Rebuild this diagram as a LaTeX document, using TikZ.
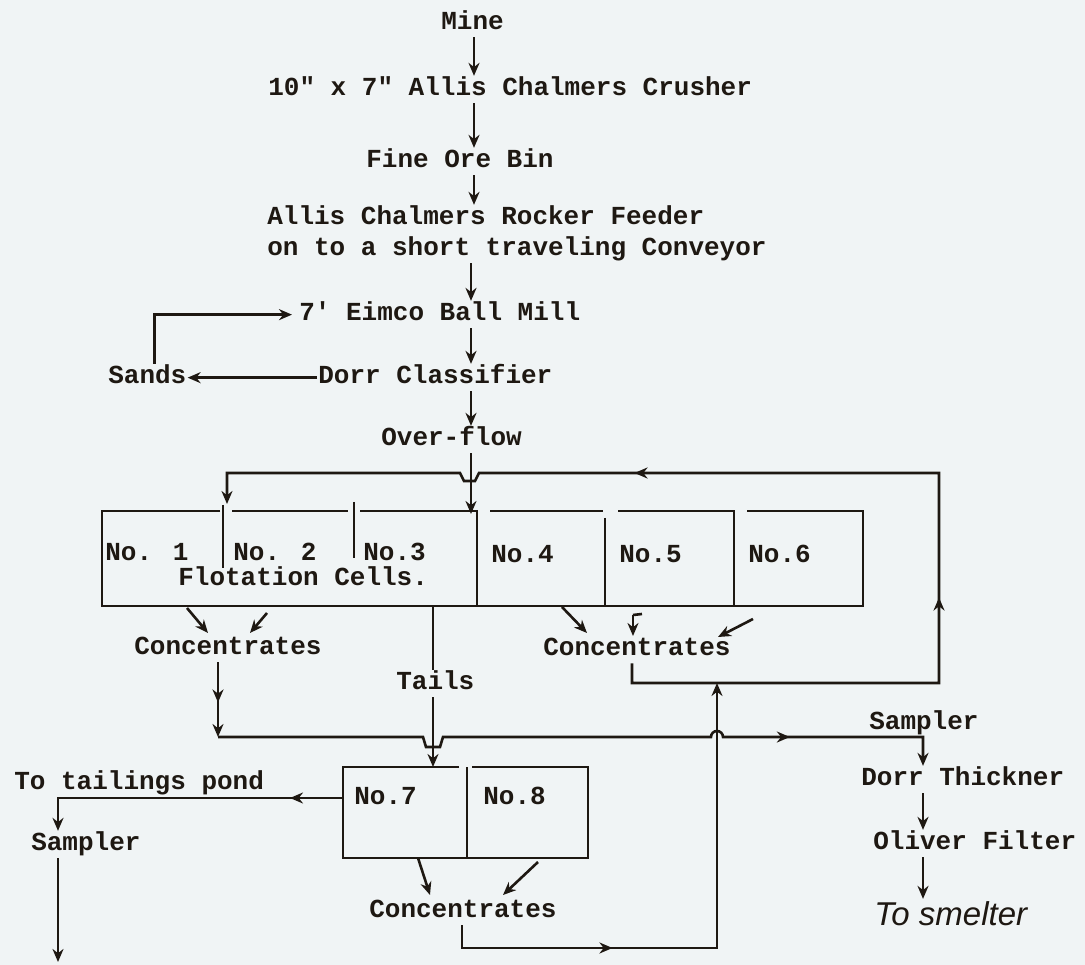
\documentclass[tikz,border=0pt]{standalone}
\usepackage{fontspec}
\newfontfamily\typ{Liberation Mono}
\newfontfamily\hand{Liberation Sans}
\usetikzlibrary{arrows.meta,decorations.markings}
\definecolor{ink}{HTML}{1E1812}
\definecolor{paper}{HTML}{F0F4F5}
\begin{document}
\begin{tikzpicture}[x=1pt,y=-1pt,
  line width=2.6pt, color=ink,
  >={Stealth[length=13pt,width=11pt]},
  txt/.style={font=\typ\bfseries\fontsize{26}{30}\selectfont, text=ink,
    inner xsep=0pt, inner ysep=3pt, text height=15pt, text depth=4pt, anchor=mid west, yshift=-5pt},
  handtxt/.style={font=\hand\itshape\fontsize{33}{36}\selectfont, text=ink,
    inner xsep=0pt, inner ysep=3pt, text height=22pt, text depth=4pt, anchor=mid west, yshift=-3pt},
  midarr/.style={postaction={decorate,decoration={markings,mark=at position #1 with {\arrow{>}}}}},
]
\useasboundingbox (0,0) rectangle (1085,965);
\fill[paper] (0,0) rectangle (1085,965);

% ---------- spines ----------
\coordinate (spA) at (474,0);
\coordinate (spB) at (471,0);
\coordinate (spT) at (433,0);
\coordinate (spR) at (923,0);
\coordinate (spL) at (58,0);

% ---------- upper chain ----------
\node[txt] (mine)    at (440,22)  {Mine};
\node[txt] (crusher) at (267,88)  {10" x 7" Allis Chalmers Crusher};
\node[txt] (fine)    at (365,160) {Fine Ore Bin};
\node[txt] (feed1)   at (266,217) {Allis Chalmers Rocker Feeder};
\node[txt] (feed2)   at (266,248) {on to a short traveling Conveyor};
\node[txt] (mill)    at (298,313) {7' Eimco Ball Mill};
\node[txt] (dorr)    at (317,376) {Dorr Classifier};
\node[txt] (sands)   at (107,376) {Sands};
\node[txt] (over)    at (380,438) {Over-flow};

\draw[->] (mine.south -| spA) -- (crusher.north -| spA);
\draw[->] (crusher.south -| spA) -- (fine.north -| spA);
\draw[->] (fine.south -| spA) -- (feed1.north -| spA);
\draw[->] (feed2.south -| spB) -- (mill.north -| spB);
\draw[->] (mill.south -| spB) -- (dorr.north -| spB);
\draw[->] (dorr.south -| spB) -- (over.north -| spB);
\draw[->] (dorr.west) -- (sands.east);
\draw[->, shorten >=6pt] ([xshift=7pt]sands.north) |- (mill.west);

% ---------- flotation cells box ----------
\coordinate (fNW) at (102,511);
\coordinate (fSE) at (863,606);
\draw (220,511) -- (fNW) -- (102,606) -- (fSE) -- (863,511) -- (747,511);
\draw (232,511) -- (348,511);
\draw (360,511) -- (477,511) -- (477,606);
\draw (490,511) -- (603,511);
\draw (618,511) -- (734,511) -- (734,606);
\draw (605,518) -- (605,606);
\draw (223,505) -- (223,568);
\draw (354,502) -- (354,558);

\node[txt] (no1) at (104,553) {No. 1};
\node[txt] (no2) at (232,553) {No. 2};
\node[txt] (no3) at (362,553) {No.3};
\node[txt] (flot) at (177,578) {Flotation Cells.};
\node[txt] (no4) at (490,555) {No.4};
\node[txt] (no5) at (618,555) {No.5};
\node[txt] (no6) at (747,555) {No.6};

% feed into cells
\draw[->] (over.south -| spB) -- ([yshift=-3pt]spB |- fNW);

% ---------- concentrates / tails ----------
\node[txt] (concL) at (133,647) {Concentrates};
\node[txt] (concR) at (542,648) {Concentrates};
\node[txt] (tails) at (395,682) {Tails};

\draw[->] (187,608) -- (208,633);
\draw[->] (267,613) -- (250,633);
\draw[->] (562,607) -- (587,633);
\draw[->] (633,615) -- (633,636);
\draw (633,615) -- (642,614);
\draw[->] (753,619) -- (718,637);

% recycle loop
\coordinate (rc1) at (632,683);
\coordinate (rc2) at (939,683);
\coordinate (rc3) at (939,473);
\coordinate (rc4) at (227,473);
\draw[->, midarr=412pt, midarr=841pt]
  (concR.south -| rc1) -- (rc1) -- (rc2) -- (rc3) -- (479,473) -- (475,481)
  -- (464,481) -- (460,473) -- (rc4) -- (227,504);

% tails line
\draw (tails.north -| spT) -- (spT |- fSE);

% ---------- No.7 / No.8 cells ----------
\coordinate (gNW) at (343,767);
\coordinate (gSE) at (588,858);
\draw (459,767) -- (gNW) -- (343,858) -- (gSE) -- (588,767) -- (472,767);
\draw (467,767) -- (467,858);
\node[txt] (no7) at (353,797) {No.7};
\node[txt] (no8) at (482,797) {No.8};

\draw[->] (tails.south -| spT) -- (spT |- gNW);

% concentrates to sampler / thickener
\coordinate (cL) at (218,737);
\node[txt] (sampR) at (868,722) {Sampler};
\node[txt] (thick) at (860,778) {Dorr Thickner};
\node[txt] (oliver) at (872,842) {Oliver Filter};
\node[handtxt] (smelt) at (873,920) {To smelter};

\draw[->, midarr=40pt] (concL.south -| cL) -- (cL);
\draw[->, midarr=-162pt] (cL) -- (423,737) -- (426,747) -- (440,747) -- (443,737)
  -- (711,737) arc[start angle=180, end angle=360, radius=6] -- (spR |- cL)
  -- (thick.north -| spR);
\draw[->] (thick.south -| spR) -- (oliver.north -| spR);
\draw[->] (oliver.south -| spR) -- (smelt.north -| spR);

% tailings
\node[txt] (pond) at (13,782) {To tailings pond};
\node[txt] (sampL) at (30,843) {Sampler};
\coordinate (b7w) at (343,798);
\draw[->, midarr=53pt] (b7w) -- (spL |- b7w) -- (sampL.north -| spL);
\coordinate (bottomL) at (58,962);
\draw[->] (sampL.south -| spL) -- (bottomL);

% bottom concentrates
\node[txt] (concB) at (368,910) {Concentrates};
\draw[->] (418,858) -- (430,895);
\draw[->] (538,862) -- (503,895);
\coordinate (cb1) at (462,948);
\coordinate (cb2) at (717,948);
\draw[->, midarr=173pt] (concB.south -| cb1) -- (cb1) -- (cb2) -- (cb2 |- rc1);

\end{tikzpicture}
\end{document}
